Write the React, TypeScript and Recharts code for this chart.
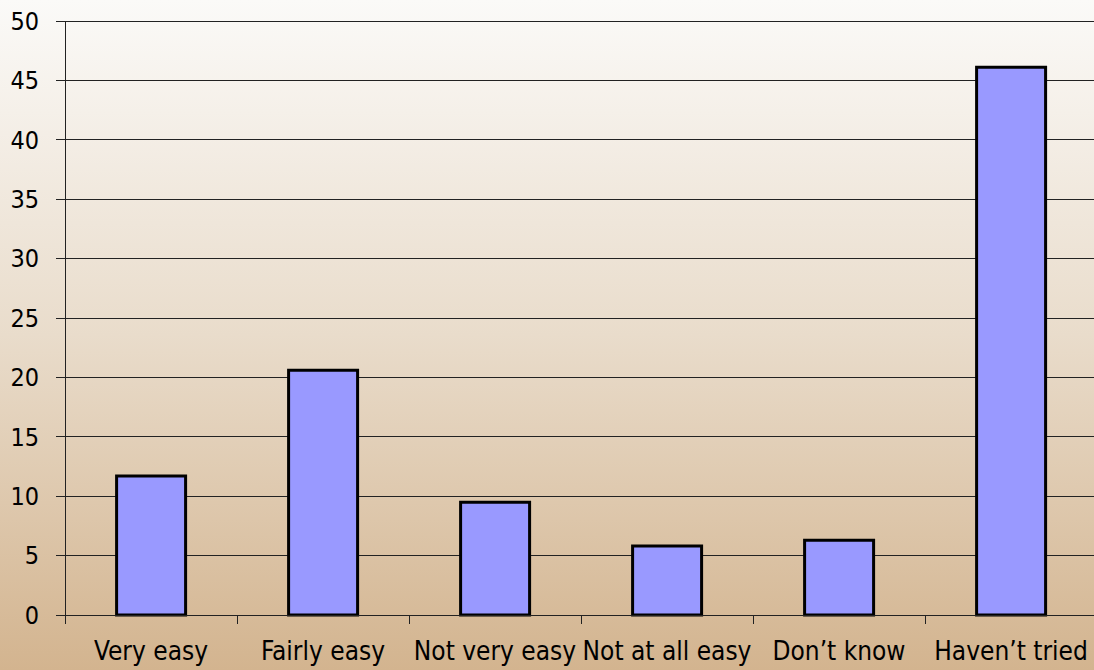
import React from 'react';
import { BarChart, Bar, XAxis, YAxis, CartesianGrid } from 'recharts';

const categories = ['Very easy', 'Fairly easy', 'Not very easy', 'Not at all easy', 'Don’t know', 'Haven’t tried'];
const values = [11.7, 20.6, 9.5, 5.8, 6.3, 46.1];
const yTicks = [0, 5, 10, 15, 20, 25, 30, 35, 40, 45, 50];

const FONT = '"DejaVu Sans Condensed", "Liberation Sans", Arial, sans-serif';
const INK = '#222';

const TICK_SIZE = 9;
const TICK_MARGIN = 18;

// category ticks sit on the band edges, with the label centred in the band
const CategoryTick = (props: any) => {
  const { x, y, payload } = props;
  const edge = Math.round(x - (payload.offset || 0)) + 0.5;
  const axisY = y - TICK_MARGIN - TICK_SIZE;
  return (
    <g>
      <line x1={edge} x2={edge} y1={axisY} y2={axisY + TICK_SIZE} stroke={INK} strokeWidth={1} />
      <text x={x} y={y} dy="0.7em" textAnchor="middle" fill="#000" fontSize={26} fontFamily={FONT}>
        {payload.value}
      </text>
    </g>
  );
};

export default function App() {
  const data = categories.map((name, i) => ({ name, value: values[i] }));

  return (
    <div
      style={{
        position: 'absolute',
        left: 0,
        top: 0,
        width: 1094,
        height: 670,
        overflow: 'hidden',
        background: 'linear-gradient(to bottom, #fbfaf8 0%, #e9dccb 50%, #d3b48f 100%)',
      }}
    >
      <BarChart
        width={1100}
        height={670}
        data={data}
        margin={{ top: 21, right: 3, bottom: 0, left: 0 }}
        barCategoryGap="30%"
      >
        <CartesianGrid vertical={false} stroke={INK} shapeRendering="crispEdges" />
        <XAxis
          dataKey="name"
          height={55}
          interval={0}
          axisLine={{ stroke: INK, shapeRendering: 'crispEdges' }}
          tickLine={false}
          tickSize={TICK_SIZE}
          tickMargin={TICK_MARGIN}
          tick={<CategoryTick />}
        />
        <YAxis
          width={65}
          domain={[0, 50]}
          ticks={yTicks}
          interval={0}
          axisLine={{ stroke: INK, shapeRendering: 'crispEdges' }}
          tickLine={{ stroke: INK, shapeRendering: 'crispEdges' }}
          tickSize={TICK_SIZE}
          tickMargin={17}
          tick={{ fill: '#000', fontSize: 25, fontFamily: FONT }}
        />
        <Bar dataKey="value" fill="#9999ff" stroke="#000" strokeWidth={3} isAnimationActive={false} />
      </BarChart>
    </div>
  );
}
